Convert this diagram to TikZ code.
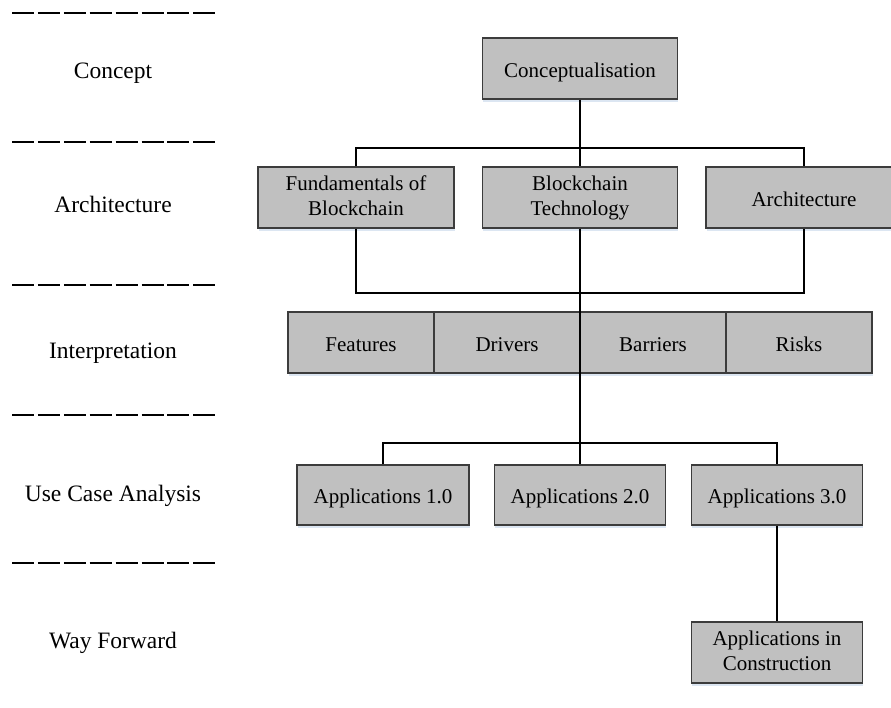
\documentclass[tikz,border=0pt]{standalone}
\usepackage{fontspec}
\setmainfont{Liberation Serif}
\usetikzlibrary{shadows}
\definecolor{boxgray}{RGB}{192,192,192}
\definecolor{boxline}{RGB}{60,60,60}
\definecolor{shadowblue}{RGB}{220,230,242}
\newcommand{\bxstrut}{\rule[-3.1pt]{0pt}{25.1pt}}
\tikzset{
  box/.style={draw=boxline, line width=1.2pt, fill=boxgray, inner sep=0pt,
    align=center, font=\fontsize{21}{25}\selectfont,
    execute at begin node=\bxstrut, execute at end node=\bxstrut,
    drop shadow={shadow xshift=0.6pt, shadow yshift=-2.5pt, fill=shadowblue, opacity=1}},
  levellabel/.style={anchor=base, inner sep=0pt, font=\fontsize{23.5}{28}\selectfont},
  sep/.style={line width=2.6pt, dash pattern=on 22pt off 3.9pt},
  conn/.style={line width=2pt, black}
}
\begin{document}
\begin{tikzpicture}[x=1pt,y=-1pt]
\clip (0,0) rectangle (891,707);
\fill[white] (0,0) rectangle (891,707);

% level separators
\foreach \yy in {13,142,285,415,563}{
  \draw[sep] (12,\yy) -- (216,\yy);
}
% level labels
\node[levellabel] (lconcept) at (113,78) {Concept};
\node[levellabel] (larch) at (113,212) {Architecture};
\node[levellabel] (linterp) at (113,358) {Interpretation};
\node[levellabel] (luse) at (113,501) {Use Case Analysis};
\node[levellabel] (lway) at (113,648) {Way Forward};

% boxes
\node[box, minimum width=195pt, minimum height=61pt] (conc) at (580,68.5) {Conceptualisation};
\node[box, minimum width=196pt, minimum height=61pt] (fund) at (356,197.5) {Fundamentals of\\Blockchain};
\node[box, minimum width=195pt, minimum height=61pt] (tech) at (580,197.5) {Blockchain\\Technology};
\node[box, minimum width=196pt, minimum height=61pt] (arch) at (804,197.5) {Architecture};

\node[box, minimum width=146pt, minimum height=61pt] (feat) at (361,342.5) {Features};
\node[box, minimum width=146pt, minimum height=61pt] (driv) at (507,342.5) {Drivers};
\node[box, minimum width=146pt, minimum height=61pt] (barr) at (653,342.5) {Barriers};
\node[box, minimum width=146pt, minimum height=61pt] (risk) at (799,342.5) {Risks};

\node[box, minimum width=172pt, minimum height=60pt] (app1) at (383,495) {Applications 1.0};
\node[box, minimum width=171pt, minimum height=60pt] (app2) at (580,495) {Applications 2.0};
\node[box, minimum width=171pt, minimum height=60pt] (app3) at (777,495) {Applications 3.0};

\node[box, minimum width=171pt, minimum height=61pt] (cons) at (777,652.5) {Applications in\\Construction};

% connectors
\coordinate (b1) at (580,148);
\coordinate (b2) at (580,293);
\coordinate (b3) at (580,443);
\draw[conn] (conc.south) -- (tech.north);
\draw[conn] (fund.north) |- (b1) -| (arch.north);
\draw[conn] (fund.south) |- (b2) -| (arch.south);
\draw[conn] (tech.south) -- (app2.north);
\draw[conn] (app1.north) |- (b3) -| (app3.north);
\draw[conn] (app3.south) -- (cons.north);
\end{tikzpicture}
\end{document}
